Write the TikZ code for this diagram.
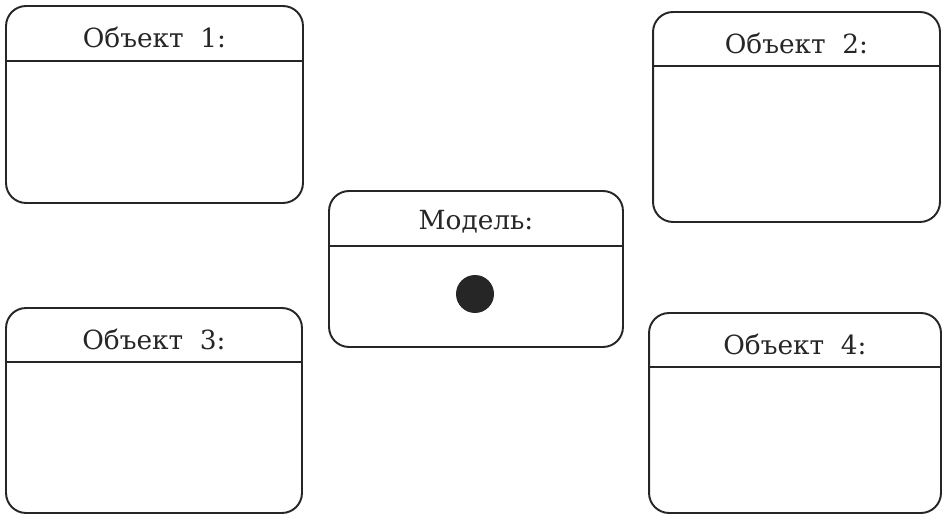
\documentclass[tikz,border=0pt]{standalone}
\usepackage{fontspec}
\setmainfont{DejaVu Serif}
\usetikzlibrary{positioning}

\begin{document}
\begin{tikzpicture}[
    x=0.02cm, y=-0.02cm,
    box/.style={draw=black!85, line width=1.1pt, rounded corners=0.4cm, inner sep=0pt},
    title/.style={font=\fontsize{15}{18}\selectfont, text=black!85, inner sep=0pt},
    sep/.style={draw=black!85, line width=1.1pt}
]
\useasboundingbox (0,0) rectangle (943,516);
% boxes
\node[box, minimum width=5.94cm, minimum height=3.94cm] (obj1) at (154.5,104.5) {};
\node[box, minimum width=5.74cm, minimum height=4.2cm] (obj2) at (796.5,117) {};
\node[box, minimum width=5.88cm, minimum height=3.12cm] (model) at (476,269) {};
\node[box, minimum width=5.92cm, minimum height=4.1cm] (obj3) at (154,410.5) {};
\node[box, minimum width=5.84cm, minimum height=4cm] (obj4) at (795,413) {};
% headers
\node[title] (t1) at ([yshift=-0.64cm]obj1.north) {Объект\ \ 1:};
\node[title] (t2) at ([yshift=-0.64cm]obj2.north) {Объект\ \ 2:};
\node[title] (tm) at ([yshift=-0.64cm]model.north) {Модель:};
\node[title] (t3) at ([yshift=-0.64cm]obj3.north) {Объект\ \ 3:};
\node[title] (t4) at ([yshift=-0.64cm]obj4.north) {Объект\ \ 4:};
\draw[sep] ([yshift=-1.12cm]obj1.north west) -- ([yshift=-1.12cm]obj1.north east);
\draw[sep] ([yshift=-1.1cm]obj2.north west) -- ([yshift=-1.1cm]obj2.north east);
\draw[sep] ([yshift=-1.12cm]model.north west) -- ([yshift=-1.12cm]model.north east);
\draw[sep] ([yshift=-1.1cm]obj3.north west) -- ([yshift=-1.1cm]obj3.north east);
\draw[sep] ([yshift=-1.1cm]obj4.north west) -- ([yshift=-1.1cm]obj4.north east);
% dot
\node[circle, fill=black!85, minimum size=0.76cm, inner sep=0pt] (dot) at (475,294) {};
\end{tikzpicture}
\end{document}
